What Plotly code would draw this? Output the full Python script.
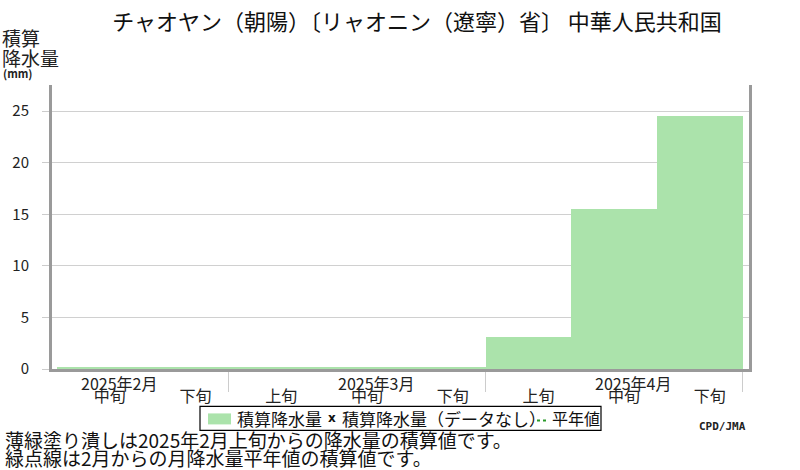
import plotly.graph_objects as go

# ================== DATA ==================
dekads = ["中旬", "下旬", "上旬", "中旬", "下旬", "上旬", "中旬", "下旬"]
months = ["2025年2月", "2025年3月", "2025年4月"]
month_mid_idx = [0, 3, 6]          # index of the 中旬 dekad of each month
month_edges = [1.5, 4.5, 7.5]      # boundaries between months
cum_precip = [0.2, 0.2, 0.2, 0.2, 0.2, 3.1, 15.5, 24.5]
y_ticks = [0, 5, 10, 15, 20, 25]

title = "チャオヤン（朝陽）〔リャオニン（遼寧）省〕 中華人民共和国"
note1 = "薄緑塗り潰しは2025年2月上旬からの降水量の積算値です。"
note2 = "緑点線は2月からの月降水量平年値の積算値です。"

FONT = "Noto Sans CJK JP"
GREEN = "#abe3ab"
FRAME = "#9a9a9a"

# plot area in pixels (800x470 page)
L, R, T, B = 52, 749, 85, 369.5
W_PX, H_PX = 800, 470


def px(x):
    return (x - L) / (R - L)


def py(y):
    return (B - y) / (B - T)


fig = go.Figure()

fig.add_trace(go.Bar(
    x=list(range(len(cum_precip))),
    y=cum_precip,
    width=1.0,
    marker=dict(color=GREEN, line=dict(width=0)),
    name="積算降水量",
    showlegend=False,
    hoverinfo="y",
))

# month labels above the dekad labels
annotations = []
for m, i in zip(months, month_mid_idx):
    annotations.append(dict(
        x=i, y=0, xref="x", yref="paper", text=m, showarrow=False,
        xanchor="center", yanchor="middle", xshift=19, yshift=-14,
        font=dict(family=FONT, size=16, color="#222"),
    ))

# y axis title
annotations += [
    dict(x=px(0), y=py(37), xref="paper", yref="paper", text="積算",
         showarrow=False, xanchor="left", yanchor="middle",
         font=dict(family=FONT, size=19, color="#222")),
    dict(x=px(0), y=py(57), xref="paper", yref="paper", text="降水量",
         showarrow=False, xanchor="left", yanchor="middle",
         font=dict(family=FONT, size=19, color="#222")),
    dict(x=px(1), y=py(73), xref="paper", yref="paper", text="<b>(mm)</b>",
         showarrow=False, xanchor="left", yanchor="middle",
         font=dict(family=FONT, size=11, color="#222")),
]

# footnotes and credit
annotations += [
    dict(x=px(3), y=py(440), xref="paper", yref="paper", text=note1,
         showarrow=False, xanchor="left", yanchor="middle",
         font=dict(family=FONT, size=19, color="#111")),
    dict(x=px(3), y=py(458), xref="paper", yref="paper", text=note2,
         showarrow=False, xanchor="left", yanchor="middle",
         font=dict(family=FONT, size=19, color="#111")),
    dict(x=px(748), y=py(427), xref="paper", yref="paper", text="<b>CPD/JMA</b>",
         showarrow=False, xanchor="right", yanchor="middle",
         font=dict(family="DejaVu Sans Mono", size=11, color="#222")),
]

# hand-made legend (matches the compact original box)
leg_y = 419
annotations += [
    dict(x=px(235), y=py(leg_y), xref="paper", yref="paper", text="積算降水量",
         showarrow=False, xanchor="left", yanchor="middle",
         font=dict(family=FONT, size=17, color="#111")),
    dict(x=px(332), y=py(leg_y), xref="paper", yref="paper", text="<b>x</b>",
         showarrow=False, xanchor="center", yanchor="middle",
         font=dict(family="DejaVu Sans", size=12, color="#111")),
    dict(x=px(340), y=py(leg_y), xref="paper", yref="paper", text="積算降水量（データなし）",
         showarrow=False, xanchor="left", yanchor="middle",
         font=dict(family=FONT, size=17, color="#111")),
    dict(x=px(550), y=py(leg_y), xref="paper", yref="paper", text="平年値",
         showarrow=False, xanchor="left", yanchor="middle",
         font=dict(family=FONT, size=16, color="#111")),
]

shapes = [
    dict(type="rect", xref="paper", yref="paper",
         x0=px(200), x1=px(601), y0=py(407), y1=py(431),
         line=dict(color="#000", width=1.2), fillcolor="white", layer="above"),
    dict(type="rect", xref="paper", yref="paper",
         x0=px(208), x1=px(231), y0=py(414), y1=py(425),
         line=dict(width=0), fillcolor=GREEN, layer="above"),
    dict(type="line", xref="paper", yref="paper",
         x0=px(537), x1=px(549), y0=py(421), y1=py(421),
         line=dict(color="#2a9a2a", width=2, dash="dot"), layer="above"),
]

fig.update_layout(
    width=W_PX, height=H_PX,
    margin=dict(l=L, r=W_PX - R, t=T, b=H_PX - B, pad=0),
    paper_bgcolor="white", plot_bgcolor="white",
    title=dict(text=title, x=417 / W_PX, xref="container", xanchor="center",
               y=1 - 22 / H_PX, yref="container", yanchor="middle",
               font=dict(family=FONT, size=22, color="#111")),
    showlegend=False,
    bargap=0,
    annotations=annotations,
    shapes=shapes,
    xaxis=dict(
        range=[-0.558, 7.574],
        tickvals=list(range(len(dekads))),
        ticktext=dekads,
        ticks="",
        ticklabelshift=10,
        ticklabelstandoff=11,
        tickfont=dict(family=FONT, size=16, color="#222"),
        showgrid=False,
        zeroline=False,
        showline=True, linecolor=FRAME, linewidth=3,
        minor=dict(tick0=month_edges[0], dtick=3,
                   ticks="outside", ticklen=20, tickcolor="#cccccc",
                   tickwidth=1, showgrid=False),
        fixedrange=True,
    ),
    yaxis=dict(
        range=[0, 27.54],
        tickvals=y_ticks,
        ticks="outside", ticklen=7, tickcolor="#cccccc",
        ticklabelstandoff=10,
        tickfont=dict(family=FONT, size=15, color="#222"),
        showgrid=True, gridcolor="#d0d0d0", gridwidth=1,
        zeroline=False,
        showline=True, linecolor=FRAME, linewidth=3, mirror=True,
        fixedrange=True,
    ),
)

# drop the browser's default body margin so the figure sits at the page corner
fig.write_html("out.html", config={"displayModeBar": False},
               post_script="document.body.style.margin='0';")
